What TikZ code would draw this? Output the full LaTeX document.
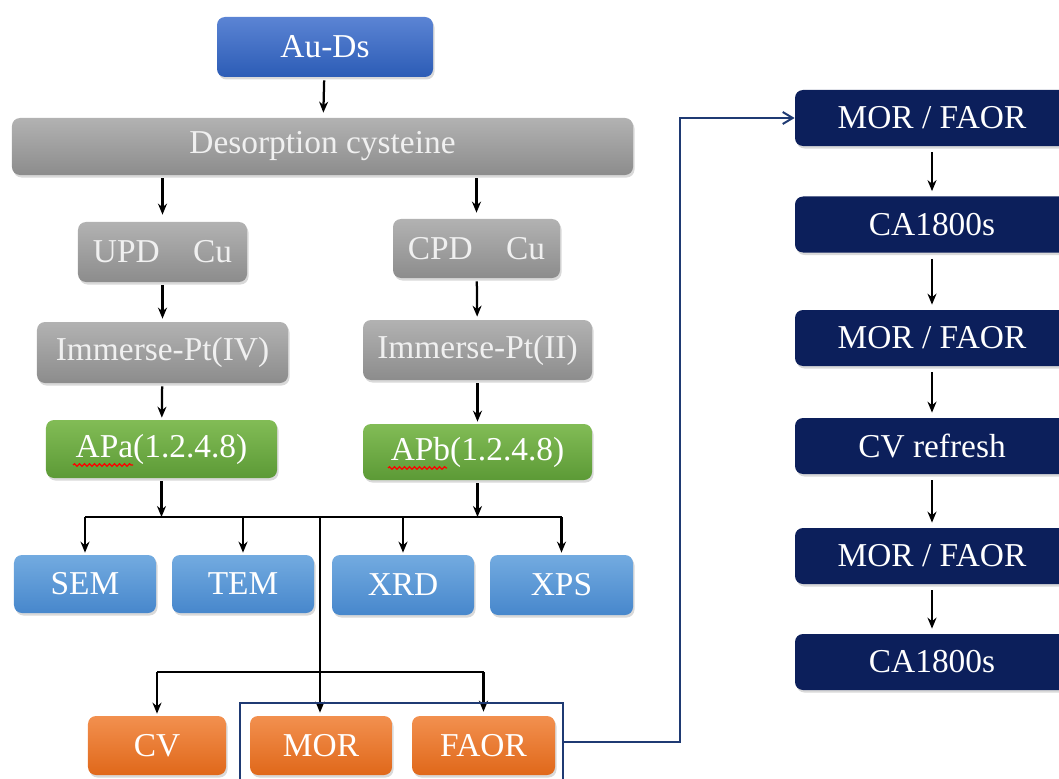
\documentclass[tikz,border=0pt]{standalone}
\usepackage{fontspec}
\setmainfont{Liberation Serif}
\usepackage{tikz}
\usetikzlibrary{arrows.meta,shadows,decorations.pathmorphing}
\definecolor{blT}{HTML}{5B84D4}
\definecolor{blB}{HTML}{2C5CB6}
\definecolor{grT}{HTML}{B2B2B2}
\definecolor{grB}{HTML}{8C8C8C}
\definecolor{gnT}{HTML}{82BC56}
\definecolor{gnB}{HTML}{5C9A36}
\definecolor{lbT}{HTML}{73ABE0}
\definecolor{lbB}{HTML}{4787CC}
\definecolor{ogT}{HTML}{F2904F}
\definecolor{ogB}{HTML}{E0681A}
\definecolor{navybox}{HTML}{0C1F5B}
\definecolor{navyline}{HTML}{1F3A73}
\tikzstyle{box}=[rounded corners=1.6mm, inner sep=0pt, text=white, font=\fontsize{19pt}{22pt}\selectfont, drop shadow={shadow xshift=0.3mm, shadow yshift=-0.5mm, opacity=0.3}]
\tikzstyle{bl}=[box, top color=blT, bottom color=blB]
\tikzstyle{gr}=[box, top color=grT, bottom color=grB, text=white!94!black]
\tikzstyle{gn}=[box, top color=gnT, bottom color=gnB]
\tikzstyle{lb}=[box, top color=lbT, bottom color=lbB]
\tikzstyle{og}=[box, top color=ogT, bottom color=ogB]
\tikzstyle{nv}=[box, fill=navybox, minimum width=54.8mm, minimum height=11.2mm]
\tikzstyle{arr}=[line width=0.45mm, -{Stealth[length=2.2mm,width=1.8mm]}]
\tikzstyle{ln}=[line width=0.45mm]
\tikzstyle{nl}=[line width=0.4mm, draw=navyline]
\tikzstyle{sq}=[red, line width=0.25mm, decorate, decoration={snake, segment length=1mm, amplitude=0.25mm}]

\begin{document}
\begin{tikzpicture}[x=0.2mm, y=-0.2mm]
\useasboundingbox (0,0) rectangle (1059,779);
\clip (0,0) rectangle (1059,779);

% left column
\node[bl, minimum width=43.2mm, minimum height=12mm] (au) at (325,47) {Au-Ds};
\node[gr, minimum width=124.2mm, minimum height=11.4mm] (des) at (322.5,146.5) {Desorption cysteine};
\node[gr, minimum width=33.8mm, minimum height=12mm] (upd) at (162.5,252) {UPD\quad Cu};
\node[gr, minimum width=33.4mm, minimum height=11.8mm] (cpd) at (476.5,248.5) {CPD\quad Cu};
\node[gr, minimum width=50.2mm, minimum height=12.2mm] (ipa) at (162.5,352.5) {Immerse-Pt(IV)};
\node[gr, minimum width=45.8mm, minimum height=12mm] (ipb) at (477.5,350) {Immerse-Pt(II)};
\node[gn, minimum width=46.2mm, minimum height=11.6mm] (apa) at (161.5,449) {APa(1.2.4.8)};
\node[gn, minimum width=45.8mm, minimum height=11.2mm] (apb) at (477.5,452) {APb(1.2.4.8)};
\draw[sq] (73,465) -- (133,465);
\draw[sq] (388,468) -- (447,468);

\node[lb, minimum width=28.4mm, minimum height=11.6mm] (sem) at (85,584) {SEM};
\node[lb, minimum width=28.4mm, minimum height=11.6mm] (tem) at (243,584) {TEM};
\node[lb, minimum width=28.4mm, minimum height=12mm] (xrd) at (403,585) {XRD};
\node[lb, minimum width=28.6mm, minimum height=12mm] (xps) at (561.5,585) {XPS};

\node[og, minimum width=27.6mm, minimum height=11.8mm] (cv) at (157,745.5) {CV};
\node[og, minimum width=28.4mm, minimum height=11.8mm] (mor) at (321,745.5) {MOR};
\node[og, minimum width=28.6mm, minimum height=11.8mm] (faor) at (483.5,745.5) {FAOR};

\coordinate (bus) at (320,517);
\coordinate (bus2) at (320,672);

\draw[arr, shorten <=0.6mm, shorten >=1mm] (au) -- (des);
\draw[arr, shorten <=0.6mm, shorten >=1.4mm] (upd |- des.south) -- (upd.north);
\draw[arr, shorten <=0.6mm, shorten >=1.2mm] (cpd |- des.south) -- (cpd.north);
\draw[arr, shorten <=0.6mm, shorten >=0.6mm] (upd) -- (ipa);
\draw[arr, shorten <=0.6mm, shorten >=0.6mm] (cpd) -- (ipb);
\draw[arr, shorten <=0.6mm, shorten >=0.4mm] (ipa) -- (apa);
\draw[arr, shorten <=0.6mm, shorten >=0.4mm] (ipb) -- (apb);
\draw[arr, shorten <=0.6mm] (apa) -- (apa |- bus);
\draw[arr, shorten <=0.6mm] (apb) -- (apb |- bus);
\draw[ln] (sem |- bus) -- (xps |- bus);
\draw[arr, shorten >=0.4mm] (sem |- bus) -- (sem.north);
\draw[arr, shorten >=0.4mm] (tem |- bus) -- (tem.north);
\draw[arr, shorten >=0.4mm] (xrd |- bus) -- (xrd.north);
\draw[arr, shorten >=0.4mm] (xps |- bus) -- (xps.north);
\draw[arr, shorten >=0.6mm] (bus) -- (bus |- mor.north);
\draw[ln] (cv |- bus2) -- (faor |- bus2);
\draw[arr, shorten >=0.4mm] (cv |- bus2) -- (cv.north);
\draw[arr, shorten >=0.8mm] (faor |- bus2) -- (faor.north);

% frame round MOR and FAOR
\draw[nl] (240,790) |- (563,703) -- (563,790);
\coordinate (grp) at (563,742);
\coordinate (bend) at (680,742);

% right column
\node[nv] (r1) at (932,118) {MOR / FAOR};
\node[nv] (r2) at (932,224.5) {CA1800s};
\node[nv] (r3) at (932,338) {MOR / FAOR};
\node[nv] (r4) at (932,446) {CV refresh};
\node[nv] (r5) at (932,556) {MOR / FAOR};
\node[nv] (r6) at (932,662) {CA1800s};

\draw[nl, -{Straight Barb[length=2mm,width=2.4mm]}] (grp) -- (bend) |- (r1.west);
\draw[arr, shorten <=1.2mm, shorten >=1mm] (r1) -- (r2);
\draw[arr, shorten <=1.2mm, shorten >=1mm] (r2) -- (r3);
\draw[arr, shorten <=1.2mm, shorten >=1mm] (r3) -- (r4);
\draw[arr, shorten <=1.2mm, shorten >=1mm] (r4) -- (r5);
\draw[arr, shorten <=1.2mm, shorten >=1mm] (r5) -- (r6);

\end{tikzpicture}
\end{document}
